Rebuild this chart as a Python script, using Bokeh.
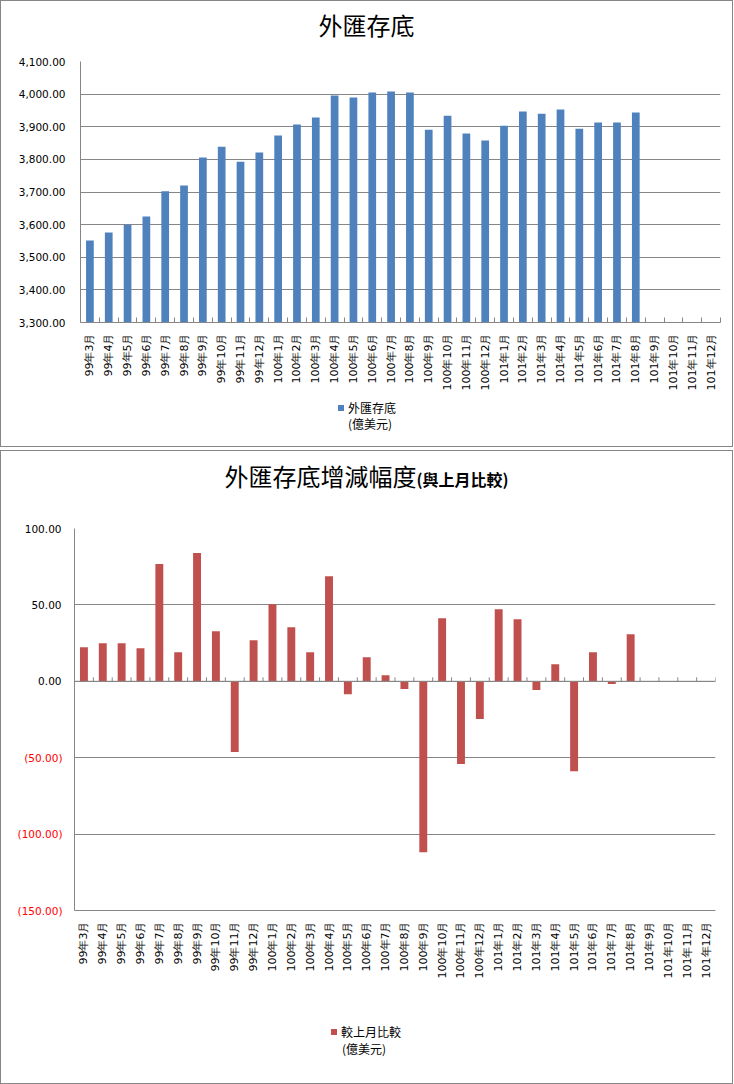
import math
from bokeh.plotting import figure
from bokeh.models import (Range1d, FixedTicker, NumeralTickFormatter, Span, ColumnDataSource,
                          LinearAxis, Div)
from bokeh.layouts import column
from bokeh.embed import file_html
from bokeh.resources import INLINE

# ---------------- data ----------------
months = ["99年3月", "99年4月", "99年5月", "99年6月", "99年7月", "99年8月", "99年9月",
          "99年10月", "99年11月", "99年12月",
          "100年1月", "100年2月", "100年3月", "100年4月", "100年5月", "100年6月",
          "100年7月", "100年8月", "100年9月", "100年10月", "100年11月", "100年12月",
          "101年1月", "101年2月", "101年3月", "101年4月", "101年5月", "101年6月",
          "101年7月", "101年8月", "101年9月", "101年10月", "101年11月", "101年12月"]

reserves = [3551, 3576, 3600, 3625, 3702, 3720, 3806, 3839, 3793, 3821,
            3873, 3907, 3928, 3996, 3990, 4005, 4008, 4005, 3891, 3934, 3879, 3858,
            3903, 3947, 3940, 3953, 3894, 3913, 3913, 3944]

changes = [22.3, 24.9, 24.9, 21.6, 76.7, 19.0, 83.9, 32.8, -46.3, 26.9,
           50.5, 35.4, 19.0, 68.8, -8.5, 15.7, 3.9, -5.0, -111.8, 41.3, -54.2, -24.7,
           47.2, 40.6, -5.7, 11.1, -58.8, 19.0, -1.7, 30.8]

reserve_ticks = [3300, 3400, 3500, 3600, 3700, 3800, 3900, 4000, 4100]
change_ticks = [-150, -100, -50, 0, 50, 100]

title_1 = "外匯存底"
title_2_main = "外匯存底增減幅度"
title_2_sub = "(與上月比較)"
legend_1 = "外匯存底"
legend_2 = "較上月比較"
unit_text = "(億美元)"

# ---------------- style ----------------
BLUE = "#4F81BD"
RED = "#C0504D"
GRAY = "#868686"
NEG = "#FF0000"
FONT = "DejaVu Sans"
CJK = "Noto Sans CJK TC"
INNER_W = 731

n = len(months)
idx = list(range(n))
bounds = [i - 0.5 for i in range(n + 1)]
label_map = {i: m for i, m in enumerate(months)}


def style_axes(p, yticks, ystandoff, xminor_in):
    xa = p.xaxis[0]
    xa.ticker = FixedTicker(ticks=idx, minor_ticks=bounds)
    xa.major_label_overrides = label_map
    xa.major_label_orientation = math.pi / 2
    xa.major_tick_in = 0
    xa.major_tick_out = 0
    xa.minor_tick_in = xminor_in
    xa.minor_tick_out = 0
    xa.minor_tick_line_color = GRAY if xminor_in else None
    xa.axis_line_color = GRAY
    xa.major_label_standoff = 11
    xa.major_label_text_font = FONT
    xa.major_label_text_font_size = "11px"
    xa.major_label_text_color = "black"

    ya = p.yaxis[0]
    ya.ticker = FixedTicker(ticks=yticks, minor_ticks=[])
    ya.major_tick_in = 0
    ya.major_tick_out = 0
    ya.minor_tick_in = 0
    ya.minor_tick_out = 0
    ya.axis_line_color = GRAY
    ya.major_label_standoff = ystandoff
    ya.major_label_text_font = FONT
    ya.major_label_text_font_size = "10.5px"
    ya.major_label_text_color = "black"

    p.xgrid.visible = False
    p.ygrid.grid_line_color = GRAY
    p.ygrid.grid_line_alpha = 1.0


def legend_div(color, text, height, sq, t1, t2):
    html = (f'<div style="position:relative;width:{INNER_W}px;height:{height}px;">'
            f'<div style="position:absolute;left:{sq[0]}px;top:{sq[1]}px;width:6px;height:6px;'
            f'background:{color};"></div>'
            f'<div style="position:absolute;left:{t1[0]}px;top:{t1[1]}px;line-height:16px;'
            f'white-space:nowrap;">{text}</div>'
            f'<div style="position:absolute;left:{t2[0]}px;top:{t2[1]}px;line-height:16px;'
            f'white-space:nowrap;">{unit_text}</div></div>')
    return Div(text=html, width=INNER_W, height=height, margin=0,
               styles={"font-family": CJK, "font-size": "12px", "color": "black"})


# ---------------- top chart ----------------
div1 = Div(text=f'<span style="font-size:24px">{title_1}</span>',
           width=INNER_W, height=48, margin=0,
           styles={"text-align": "center", "line-height": "48px",
                   "font-family": CJK, "color": "black"})

p1 = figure(width=INNER_W, height=345, x_range=Range1d(-0.5, n - 0.5),
            y_range=Range1d(reserve_ticks[0], reserve_ticks[-1]),
            output_backend="svg", toolbar_location=None, tools="",
            min_border_left=79, min_border_right=12, min_border_top=12, min_border_bottom=72,
            outline_line_color=None, background_fill_color="white")

src1 = ColumnDataSource(dict(x=idx[:len(reserves)], top=reserves))
p1.vbar(x="x", top="top", bottom=reserve_ticks[0], width=0.41, source=src1,
        fill_color=BLUE, line_color=None)
style_axes(p1, reserve_ticks, 15, 5)
p1.yaxis[0].formatter = NumeralTickFormatter(format="0,0.00")

leg1 = legend_div(BLUE, legend_1, 52, (337, 11), (347, 6), (347, 22))
chart1 = column(div1, p1, leg1, spacing=0, styles={"border": f"1px solid {GRAY}"})

# ---------------- bottom chart ----------------
div2 = Div(text=(f'<span style="font-size:24px">{title_2_main}</span>'
                 f'<span style="font-size:16px;font-weight:bold">{title_2_sub}</span>'),
           width=INNER_W, height=50, margin=0,
           styles={"text-align": "center", "line-height": "50px",
                   "font-family": CJK, "color": "black"})

p2 = figure(width=INNER_W, height=481, x_range=Range1d(-0.5, n - 0.5),
            y_range=Range1d(change_ticks[0], change_ticks[-1]),
            output_backend="svg", toolbar_location=None, tools="",
            min_border_left=73, min_border_right=17, min_border_top=27, min_border_bottom=72,
            outline_line_color=None, background_fill_color="white")

src2 = ColumnDataSource(dict(x=idx[:len(changes)], top=changes))
p2.vbar(x="x", top="top", bottom=0, width=0.42, source=src2,
        fill_color=RED, line_color=None)
style_axes(p2, [t for t in change_ticks if t >= 0], 13, 0)
p2.yaxis[0].formatter = NumeralTickFormatter(format="0.00")
p2.ygrid.ticker = FixedTicker(ticks=change_ticks, minor_ticks=[])

# negative tick labels in red, on a second left axis shifted onto the first one
neg_axis = LinearAxis(ticker=FixedTicker(ticks=[t for t in change_ticks if t < 0], minor_ticks=[]),
                      formatter=NumeralTickFormatter(format="(0.00)"),
                      axis_line_color=None, major_tick_in=0, major_tick_out=0,
                      minor_tick_in=0, minor_tick_out=0,
                      major_label_standoff=-41, major_label_text_color=NEG,
                      major_label_text_font=FONT, major_label_text_font_size="10.5px")
p2.add_layout(neg_axis, "left")

# zero line with its category tick marks (4 px upward)
p2.add_layout(Span(location=0, dimension="width", line_color=GRAY, line_width=1))
frame_h2 = 481 - 27 - 72
tick_len = 4 * (change_ticks[-1] - change_ticks[0]) / frame_h2
p2.segment(x0=bounds, y0=[0] * len(bounds), x1=bounds, y1=[tick_len] * len(bounds),
           line_color=GRAY, line_width=1)

leg2 = legend_div(RED, legend_2, 101, (330, 47), (340, 42), (341, 59))
chart2 = column(div2, p2, leg2, spacing=0, styles={"border": f"1px solid {GRAY}"})

layout = column(chart1, chart2, spacing=3)
open("out.html", "w").write(file_html(layout, INLINE))
